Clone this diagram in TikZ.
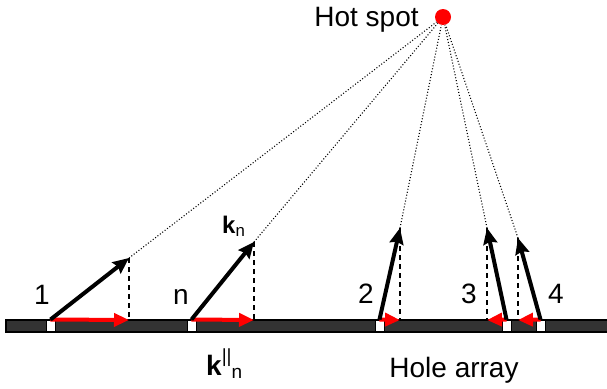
\documentclass[tikz,border=0pt]{standalone}
\usepackage{fontspec}
\setmainfont{Liberation Sans}
\usetikzlibrary{arrows.meta}
\tikzstyle{karrow}  = [line width=4pt, -{Stealth[length=16pt,width=14pt,inset=2pt]}]
\tikzstyle{kpar}    = [line width=4pt, red, -{Triangle[length=15pt,width=13pt]}]
\tikzstyle{ray}     = [line width=1.1pt, dash pattern=on 1pt off 2pt]
\tikzstyle{drop}    = [line width=1.4pt, dash pattern=on 5pt off 4pt]
\tikzstyle{hole}    = [draw, fill=white, line width=1pt, minimum width=9pt, minimum height=11pt, inner sep=0pt]
\tikzstyle{label}   = [inner sep=0pt, anchor=base, font=\fontsize{28}{30}\selectfont]

\begin{document}
\begin{tikzpicture}[x=1pt,y=-1pt]
\useasboundingbox (0,0) rectangle (607,388);

\node[circle, fill=red, minimum size=16pt, inner sep=0pt] (hot) at (443,17) {};
\node[label] (hottxt) at (366.5,27) {Hot spot};

% arrow tips and their feet on the surface
\coordinate (t1) at (129,258);
\coordinate (tn) at (254,242);
\coordinate (t2) at (400,228);
\coordinate (t3) at (487,228);
\coordinate (t4) at (518,238);

\coordinate (f1) at (129,320);
\coordinate (fn) at (254,320);
\coordinate (f2) at (400,320);
\coordinate (f3) at (487,320);
\coordinate (f4) at (518,320);

\draw[ray] (t1) -- (hot);
\draw[ray] (tn) -- (hot);
\draw[ray] (t2) -- (hot);
\draw[ray] (t3) -- (hot);
\draw[ray] (t4) -- (hot);

\draw[drop] (t1) -- (f1);
\draw[drop] (tn) -- (fn);
\draw[drop] (t2) -- (f2);
\draw[drop] (t3) -- (f3);
\draw[drop] (t4) -- (f4);

\draw[line width=1.5pt, fill=black!80] (6,320) rectangle (612,332);

\node[hole] (h1) at (50.5,325.5) {};
\node[hole] (hn) at (191.5,325.5) {};
\node[hole] (h2) at (379.5,325.5) {};
\node[hole] (h3) at (506.5,325.5) {};
\node[hole] (h4) at (540.5,325.5) {};

\draw[kpar] (h1.north) -- (f1);
\draw[kpar] (hn.north) -- (fn);
\draw[kpar] (h2.north) -- (f2);
\draw[kpar] (h3.north) -- (f3);
\draw[kpar] (h4.north) -- (f4);

\draw[karrow] (h1.north) -- (t1);
\draw[karrow] (hn.north) -- (tn);
\draw[karrow] (h2.north) -- (t2);
\draw[karrow] (h3.north) -- (t3);
\draw[karrow] (h4.north) -- (t4);

\node[label] (l1) at (42,304) {1};
\node[label] (ln) at (181,304) {n};
\node[label] (l2) at (366,303) {2};
\node[label] (l3) at (469,303) {3};
\node[label] (l4) at (556,303) {4};

\node[label, anchor=base west, font=\fontsize{24}{26}\selectfont] (kn) at (222,233) {\textbf{k}\textsubscript{n}};
\node[label, anchor=base west] (kpn) at (206,375) {\textbf{k}\raisebox{13pt}{\fontsize{19}{20}\selectfont ||}\raisebox{-3pt}{\fontsize{19}{20}\selectfont n}};
\node[label] (array) at (454,377) {Hole array};

\end{tikzpicture}
\end{document}
